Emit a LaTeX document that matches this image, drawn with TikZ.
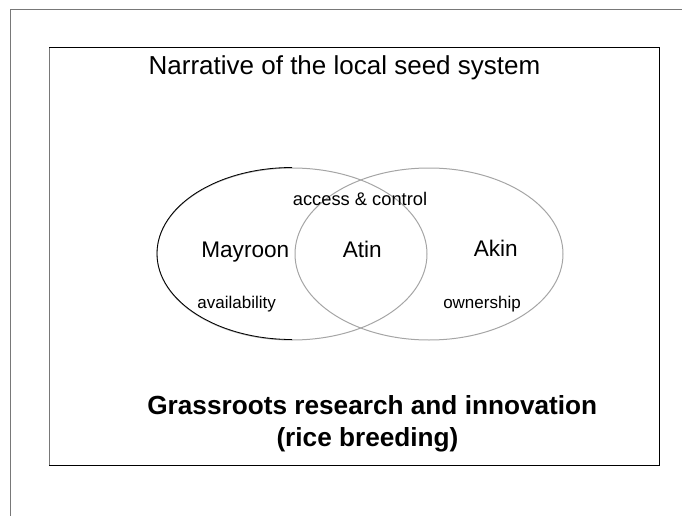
\documentclass[tikz,border=0pt]{standalone}
\usepackage{fontspec}
\usepackage{graphicx}
\setmainfont{Liberation Sans}
\usetikzlibrary{shapes.geometric}
\definecolor{framegray}{RGB}{120,120,120}
\definecolor{ringgray}{RGB}{165,165,165}
\tikzset{
  frameline/.style={draw=framegray, line width=1pt},
  boxline/.style={draw=black, line width=1pt},
  ring/.style={ellipse, draw=ringgray, line width=1pt, minimum width=270pt, minimum height=172pt, inner sep=0pt},
  title/.style={font=\fontsize{26}{31}\selectfont, anchor=base, inner sep=0pt},
  big/.style={font=\fontsize{22.6}{27}\selectfont, anchor=base, inner sep=0pt},
  small/.style={font=\fontsize{17}{21}\selectfont, anchor=base, inner sep=0pt},
  bold/.style={font=\bfseries\fontsize{26.2}{30}\selectfont, anchor=base, inner sep=0pt},
}
\begin{document}
\begin{tikzpicture}[x=1pt,y=-1pt]
\useasboundingbox (0,0) rectangle (682,516);
% outer frame (only top and left visible)
\coordinate (ofbl) at (10,516);
\coordinate (oftl) at (10,10);
\coordinate (oftr) at (682,10);
\draw[frameline] (ofbl) -- (oftl) -- (oftr);
% inner box
\coordinate (ibtl) at (49,48);
\coordinate (ibtr) at (659,48);
\coordinate (ibbr) at (659,465);
\coordinate (ibbl) at (49,465);
\draw[boxline] (ibbl) -- (ibbr) -- (ibtr) -- (ibtl);
\draw[draw=framegray, line width=1pt] (ibtl) -- (ibbl);
% ellipses
\node[ring] (L) at (292,254) {};
\node[ring, minimum width=268pt] (R) at (429,254) {};
\draw[black, line width=0.8pt] (L.north) arc[start angle=270, end angle=90, x radius=135, y radius=86];
% texts
\node[title] (t) at (344.5,75) {Narrative of the local seed system};
\node[small, font=\fontsize{18.3}{22}\selectfont] (ac) at (360,205) {access \& control};
\node[big] (may) at (245.3,257) {Mayroon};
\node[big] (atin) at (362.3,257) {Atin};
\node[big] (akin) at (495.8,256) {Akin};
\node[small] (av) at (236.7,308) {availability};
\node[small] (own) at (482,308) {ownership};
\node[bold] (g1) at (372.3,414.5) {Grassroots research and innovation};
\node[bold] (g2) at (367.5,446) {(rice breeding)};
\end{tikzpicture}
\end{document}
